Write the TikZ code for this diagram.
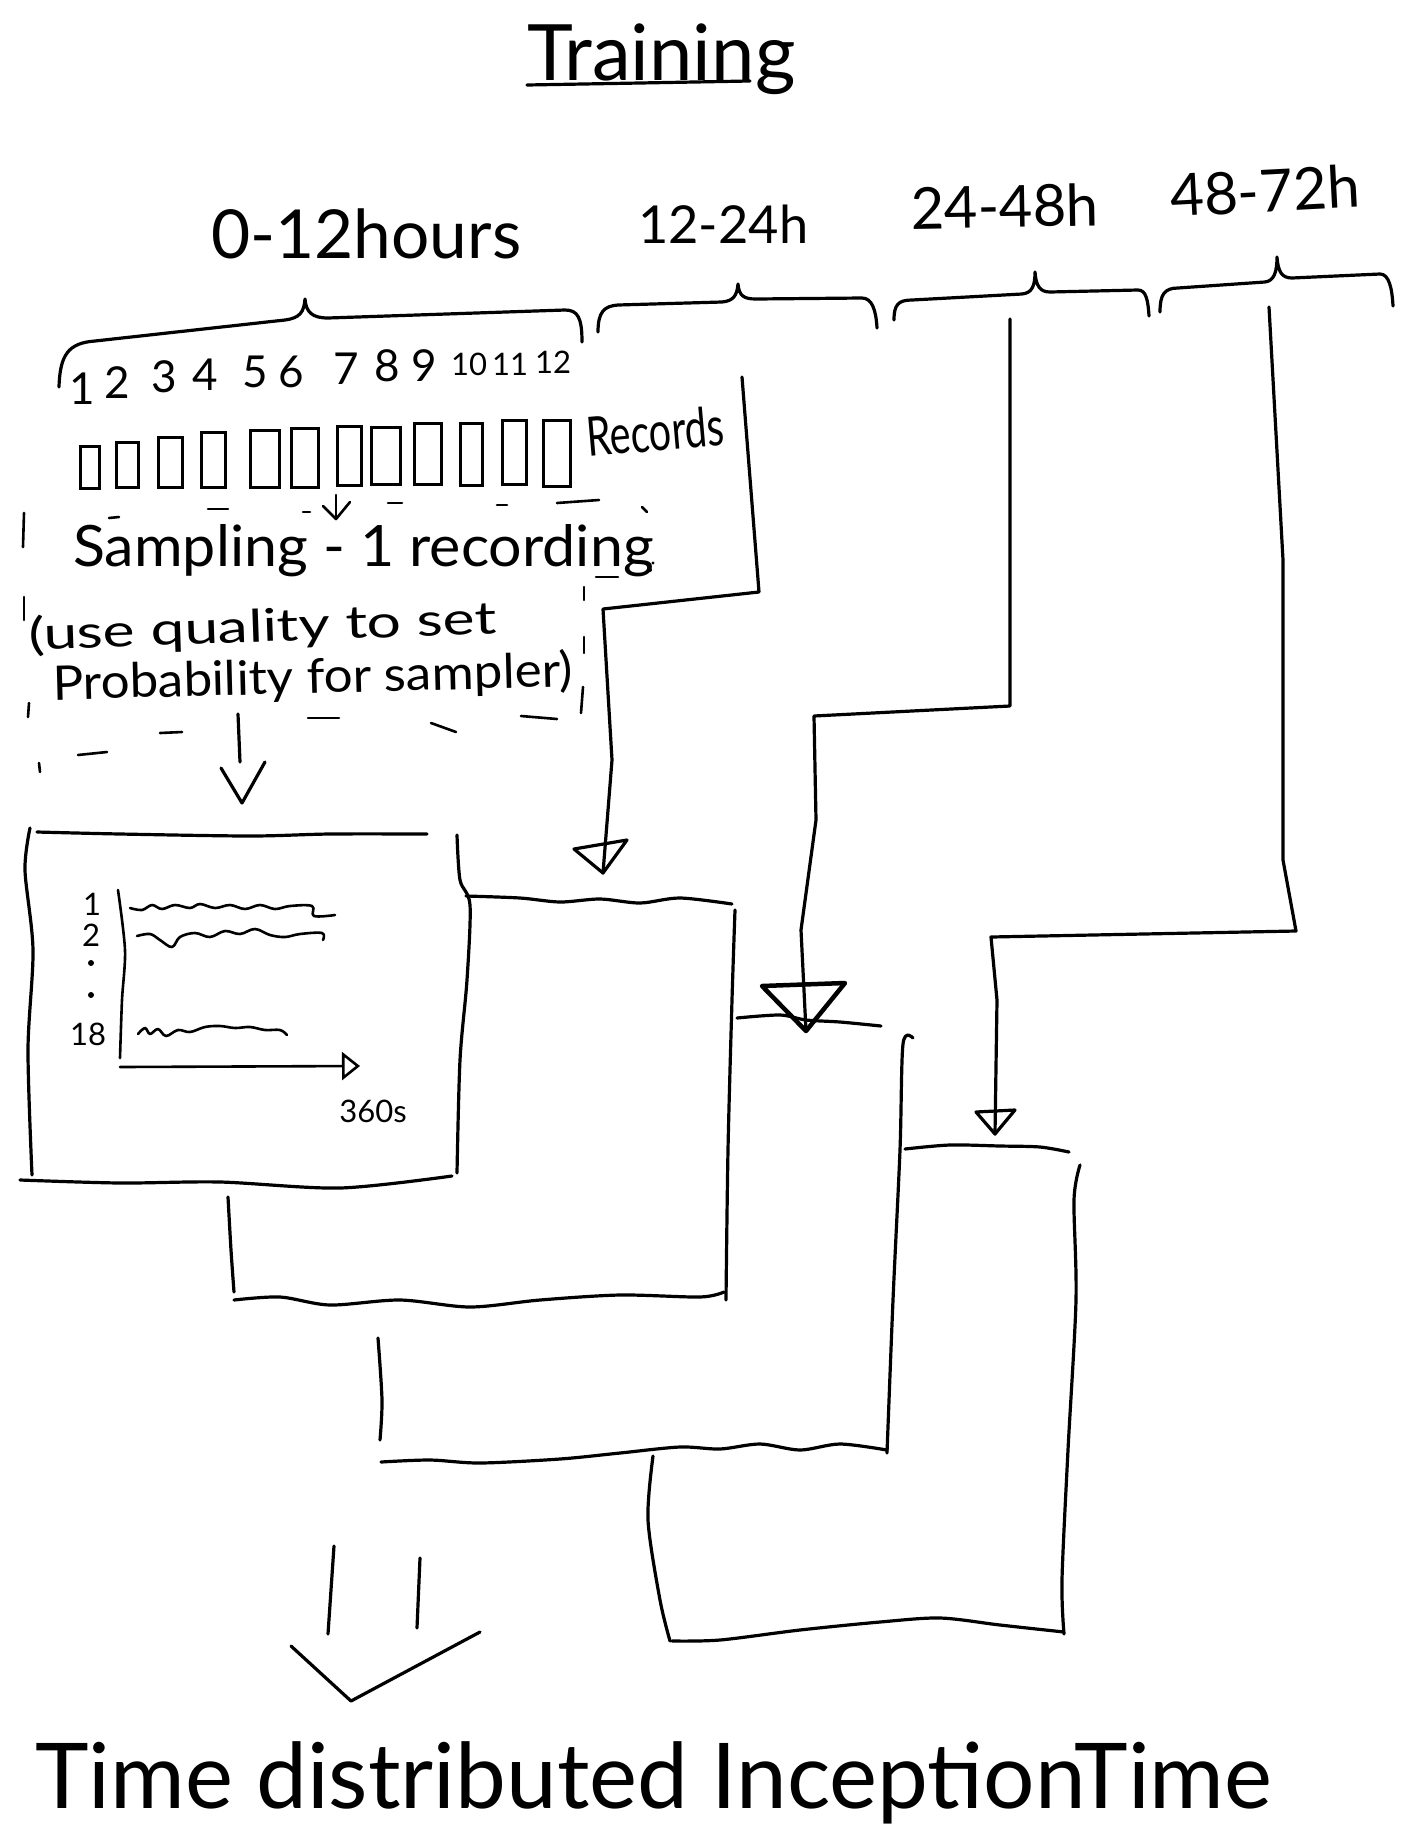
\documentclass[tikz,border=0pt]{standalone}
\usepackage{fontspec}
\setmainfont{Lato}
\usepackage{graphicx}
\usetikzlibrary{arrows.meta}
\newcommand{\fitw}[2]{\resizebox{#1}{!}{#2}}
\begin{document}
\begin{tikzpicture}[x=1pt,y=-1pt,
  sk/.style={line width=3.2pt, line cap=round, line join=round},
  thin/.style={line width=2.6pt, line cap=round, line join=round},
  txt/.style={inner sep=0pt, anchor=base west},
  num/.style={inner sep=0pt, anchor=base, font=\fontsize{44}{44}\selectfont},
  smallnum/.style={inner sep=0pt, anchor=base, font=\fontsize{31}{31}\selectfont},
  rec/.style={draw, line width=3pt, inner sep=0pt}
]
\fill[white] (0,0) rectangle (1413,1837);
\useasboundingbox (0,0) rectangle (1413,1837);

% ---------- title ----------
\node[txt] (title) at (527,80) {\fitw{268pt}{Training}};
\draw[sk] (527,85) -- (640,83) -- (750,81);

% ---------- period labels ----------
\node[txt] (p1) at (211,258) {\fitw{310pt}{0-12hours}};
\node[txt] (p2) at (638,243) {\fitw{170pt}{12-24h}};
\node[txt, rotate=1] (p3) at (911,229) {\fitw{188pt}{24-48h}};
\node[txt, rotate=3] (p4) at (1171,217) {\fitw{190pt}{48-72h}};

% ---------- braces ----------
\draw[sk] (59,387) .. controls (60,355) and (68,343) .. (95,341) -- (285,320) .. controls (300,318) and (304,312) .. (305,299) .. controls (306,312) and (312,318) .. (328,318) -- (565,310) .. controls (578,310) and (582,318) .. (582,342);
\draw[sk] (598,332) .. controls (598,312) and (604,306) .. (618,305) -- (722,302) .. controls (733,301) and (737,296) .. (738,284) .. controls (739,296) and (744,299) .. (756,299) -- (862,298) .. controls (872,298) and (876,310) .. (877,328);
\draw[sk] (894,320) .. controls (894,305) and (898,300) .. (912,300) -- (1022,294) .. controls (1032,293) and (1035,286) .. (1035,272) .. controls (1036,286) and (1040,292) .. (1050,292) -- (1138,290) .. controls (1146,290) and (1148,300) .. (1149,316);
\draw[sk] (1160,312) .. controls (1160,295) and (1164,288) .. (1178,288) -- (1265,282) .. controls (1274,281) and (1277,272) .. (1277,257) .. controls (1278,272) and (1282,278) .. (1292,278) -- (1380,274) .. controls (1389,274) and (1392,288) .. (1393,306);

% ---------- hour numbers ----------
\node[num] (n1) at (82,404) {1};
\node[num] (n2) at (117,398) {2};
\node[num] (n3) at (164,392) {3};
\node[num] (n4) at (205,390) {4};
\node[num] (n5) at (255,387) {5};
\node[num] (n6) at (291,387) {6};
\node[num] (n7) at (346,384) {7};
\node[num] (n8) at (387,381) {8};
\node[num] (n9) at (424,381) {9};
\node[smallnum] (n10) at (469,375) {10};
\node[smallnum] (n11) at (510,375) {11};
\node[smallnum] (n12) at (553,373) {12};

% ---------- record boxes ----------
\node[rec, minimum width=19pt, minimum height=42pt] (r1) at (89.5,467) {};
\node[rec, minimum width=22pt, minimum height=45pt] (r2) at (127,464.5) {};
\node[rec, minimum width=24pt, minimum height=50pt] (r3) at (170,462) {};
\node[rec, minimum width=24pt, minimum height=55pt] (r4) at (213,459.5) {};
\node[rec, minimum width=29pt, minimum height=57pt] (r5) at (264.5,458.5) {};
\node[rec, minimum width=27pt, minimum height=59pt] (r6) at (304.5,457.5) {};
\node[rec, minimum width=24pt, minimum height=59pt] (r7) at (349,455.5) {};
\node[rec, minimum width=29pt, minimum height=57pt] (r8) at (385.5,455.5) {};
\node[rec, minimum width=27pt, minimum height=61pt] (r9) at (427.5,453.5) {};
\node[rec, minimum width=22pt, minimum height=62pt] (r10) at (471,454) {};
\node[rec, minimum width=24pt, minimum height=64pt] (r11) at (514,452) {};
\node[rec, minimum width=27pt, minimum height=66pt] (r12) at (556.5,453) {};
\node[txt, rotate=5] (records) at (588,457) {\resizebox{138pt}{40pt}{Records}};

% ---------- sampling text ----------
\coordinate (sa) at (336,495);
\coordinate (sb) at (336,519);
\draw[thin] (sa) -- (sb);
\draw[thin] (323,506) -- (sb) -- (350,502);
\node[txt] (samp) at (73,566) {\resizebox{580pt}{42pt}{Sampling - 1 recording}};
\node[txt, rotate=2] (use) at (29,650) {\resizebox{468pt}{35pt}{(use quality to set}};
\node[txt, rotate=1.5] (prob) at (53,700) {\resizebox{520pt}{37pt}{Probability for sampler)}};

% dashed frame (hand-drawn dashes)
\foreach \a/\b in {
  {(109,518)}/{(119,517)}, {(208,509)}/{(228,509)}, {(303,512)}/{(310,512)},
  {(388,503)}/{(402,503)}, {(497,505)}/{(507,505)}, {(557,503)}/{(599,500)},
  {(642,507)}/{(647,512)}, {(596,577)}/{(618,577)}, {(584,587)}/{(584,600)},
  {(584,637)}/{(584,653)}, {(583,687)}/{(581,713)}, {(521,716)}/{(557,719)},
  {(431,723)}/{(456,732)}, {(308,718)}/{(339,718)}, {(160,733)}/{(182,732)},
  {(78,755)}/{(107,752)}, {(39,763)}/{(40,772)}, {(24,513)}/{(23,547)},
  {(24,597)}/{(24,620)}, {(29,703)}/{(28,717)}}
  \draw[thin] \a -- \b;
\fill (650,570) circle (2pt);
\fill (653,563) circle (1.6pt);

% arrow to first window box
\coordinate (wa) at (238,714);
\coordinate (wb) at (240,762);
\draw[sk] (wa) -- (wb);
\draw[sk] (221,768) -- (242,803) -- (265,762);

% ---------- box 4 (48-72h, back) ----------
\draw[sk] plot[smooth, tension=0.5] coordinates {(905,1149) (950,1145) (1000,1146) (1040,1147) (1069,1152)};
\draw[sk] plot[smooth, tension=0.5] coordinates {(1080,1165) (1074,1200) (1076,1300) (1068,1450) (1062,1580) (1064,1634)};
\draw[sk] plot[smooth, tension=0.5] coordinates {(672,1641) (720,1640) (800,1630) (880,1622) (940,1618) (1000,1625) (1064,1632)};
\draw[sk] plot[smooth, tension=0.5] coordinates {(653,1456) (648,1520) (660,1600) (670,1641)};

% ---------- box 3 (24-48h) ----------
\draw[sk] plot[smooth, tension=0.5] coordinates {(737,1018) (780,1015) (806,1020) (840,1022) (881,1026)};
\draw[sk] plot[smooth, tension=0.5] coordinates {(913,1038) (903,1044) (900,1150) (893,1300) (887,1453)};
\draw[sk] plot[smooth, tension=0.5] coordinates {(381,1462) (430,1460) (480,1463) (560,1459) (620,1453) (680,1447) (720,1449) (760,1444) (800,1450) (840,1444) (887,1450)};
\draw[sk] plot[smooth, tension=0.5] coordinates {(378,1338) (382,1400) (380,1440)};

% ---------- box 2 (12-24h) ----------
\draw[sk] plot[smooth, tension=0.5] coordinates {(466,896) (520,898) (560,902) (600,899) (640,903) (680,898) (732,904)};
\draw[sk] plot[smooth, tension=0.5] coordinates {(735,910) (732,1000) (728,1150) (726,1300)};
\draw[sk] plot[smooth, tension=0.5] coordinates {(234,1300) (280,1297) (330,1305) (400,1300) (470,1307) (540,1300) (620,1295) (700,1297) (724,1292)};
\draw[sk] plot[smooth, tension=0.5] coordinates {(228,1197) (231,1250) (234,1292)};

% ---------- box 1 (0-12h, front) ----------
\draw[sk] plot[smooth, tension=0.5] coordinates {(30,828) (25,870) (33,950) (28,1050) (32,1175)};
\draw[sk] plot[smooth, tension=0.5] coordinates {(37,832) (120,834) (250,836) (330,834) (427,834)};
\draw[sk] plot[smooth, tension=0.5] coordinates {(457,835) (460,880) (470,905) (467,980) (460,1060) (457,1173)};
\draw[sk] plot[smooth, tension=0.5] coordinates {(20,1180) (120,1183) (220,1182) (340,1188) (452,1176)};

% inner plot of box 1
\coordinate (ya) at (118,890);
\coordinate (yb) at (120,1058);
\draw[thin] plot[smooth] coordinates {(ya) (125,950) (122,1000) (yb)};
\coordinate (xa) at (120,1067);
\coordinate (xb) at (360,1066);
\draw[thin, -{Triangle[open, length=18pt, width=28pt]}] (xa) -- (xb);
\draw[thin] plot[smooth, tension=0.6] coordinates {(130,908) (142,910) (152,905) (162,909) (175,905) (190,908) (200,904) (215,908) (230,905) (245,909) (260,905) (275,909) (290,906) (312,906) (314,916) (335,915)};
\draw[thin] plot[smooth, tension=0.6] coordinates {(137,936) (150,934) (160,940) (172,947) (180,937) (195,933) (210,937) (225,931) (240,934) (255,929) (270,935) (285,937) (300,934) (322,933) (323,940)};
\draw[thin] plot[smooth, tension=0.6] coordinates {(138,1034) (145,1028) (150,1034) (158,1029) (166,1036) (178,1030) (190,1032) (205,1027) (220,1026) (235,1028) (250,1027) (265,1030) (280,1030) (287,1035)};
\node[smallnum] (l1) at (92,915) {1};
\node[smallnum] (l2) at (91,946) {2};
\fill (91,963) circle (3pt);
\fill (91,995) circle (3pt);
\node[smallnum] (l18) at (88,1045) {18};
\node[smallnum] (t360) at (373,1122) {360s};

% ---------- connectors ----------
\coordinate (c2s) at (742,377);
\coordinate (c2t) at (603,873);
\draw[sk] (c2s) -- (759,592) -- (603,609) -- (612,760) -- (c2t);
\draw[sk] (c2t) -- (574,849) -- (627,840) -- cycle;

\coordinate (c3s) at (1010,319);
\coordinate (c3t) at (806,1031);
\draw[sk] (c3s) -- (1010,706) -- (814,716) -- (816,820) -- (801,930) -- (c3t);
\draw[line width=4.5pt, line join=round, line cap=round] (c3t) -- (762,986) -- (845,983) -- cycle;

\coordinate (c4s) at (1269,307);
\coordinate (c4t) at (995,1134);
\draw[sk] (c4s) -- (1283,560) -- (1283,860) -- (1296,931) -- (991,937) -- (997,1000) -- (c4t);
\draw[sk] (c4t) -- (976,1112) -- (1015,1110) -- cycle;

% ---------- output arrow ----------
\draw[sk] (334,1546) -- (328,1634);
\draw[sk] (420,1558) -- (417,1628);
\draw[sk] (291,1646) -- (351,1701) -- (480,1632);

\node[txt] (model) at (35,1808) {\fitw{1236pt}{Time distributed InceptionTime}};
\end{tikzpicture}
\end{document}
